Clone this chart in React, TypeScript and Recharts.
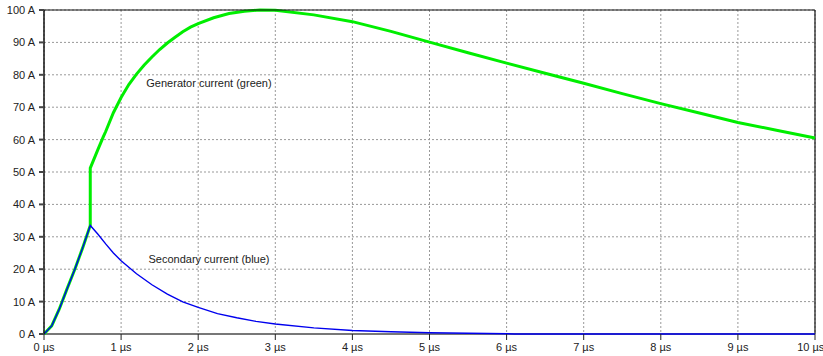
import { LineChart, Line, XAxis, YAxis, CartesianGrid, ReferenceLine, ReferenceDot } from 'recharts';

// time in µs, current in A
const generatorTime = [
  0, 0.1, 0.2, 0.3, 0.4, 0.5, 0.6, 0.6, 0.7, 0.77, 0.8, 0.9, 1.0, 1.1, 1.2, 1.3, 1.4, 1.5, 1.6, 1.7, 1.8, 1.9,
  2.0, 2.2, 2.4, 2.6, 2.8, 3.0, 3.5, 4.0, 4.5, 5.0, 5.5, 6.0, 6.5, 7.0, 7.5, 8.0, 8.5, 9.0, 9.5, 10,
];
const generatorCurrent = [
  0, 2.5, 7.8, 14, 20, 26.5, 33.5, 51.2, 57, 60.9, 62.5, 68.3, 73, 77, 80.2, 83, 85.5, 87.8, 89.8, 91.6, 93.3, 94.7,
  95.8, 97.6, 98.9, 99.6, 100, 99.9, 98.5, 96.4, 93.4, 90.1, 86.8, 83.6, 80.5, 77.4, 74.2, 71.1, 68.2, 65.3, 62.9, 60.5,
];

const secondaryTime = [
  0, 0.1, 0.2, 0.3, 0.4, 0.5, 0.6, 0.7, 0.8, 0.9, 1.0, 1.2, 1.4, 1.6, 1.8, 2.0, 2.25, 2.5, 2.75, 3.0,
  3.5, 4.0, 4.5, 5.0, 5.5, 6.0, 6.1, 7, 8, 9, 10,
];
const secondaryCurrent = [
  0, 2.5, 7.8, 14, 20, 26.5, 33.5, 30.8, 27.8, 25, 22.6, 18.6, 15.2, 12.3, 9.9, 8.2, 6.3, 5.0, 3.9, 3.1,
  1.9, 1.1, 0.7, 0.4, 0.25, 0.1, 0, 0, 0, 0, 0,
];

const xTicks = [0, 1, 2, 3, 4, 5, 6, 7, 8, 9, 10];
const yTicks = [0, 10, 20, 30, 40, 50, 60, 70, 80, 90, 100];

const generatorData = generatorTime.map((t, i) => ({ t, a: generatorCurrent[i] }));
const secondaryData = secondaryTime.map((t, i) => ({ t, a: secondaryCurrent[i] }));

const font = '"Liberation Sans", Arial, sans-serif';
const tickStyle = { fontSize: 11, fill: '#222', fontFamily: font };
const labelStyle = { fontSize: 11, fill: '#222', fontFamily: font };

export default function App() {
  return (
    <div style={{ position: 'absolute', left: 0, top: 0, width: 823, height: 356, background: '#fff' }}>
      <LineChart width={823} height={356} margin={{ top: 10, right: 8, bottom: 0, left: 0 }}>
        <CartesianGrid stroke="#999" strokeDasharray="2 2" />
        <XAxis
          dataKey="t"
          type="number"
          domain={[0, 10]}
          ticks={xTicks}
          tickFormatter={(v) => `${v} µs`}
          tick={tickStyle}
          tickSize={6}
          tickMargin={3}
          height={22}
          axisLine={false}
          tickLine={{ stroke: '#222' }}
          allowDuplicatedCategory={false}
        />
        <YAxis
          dataKey="a"
          type="number"
          domain={[0, 100]}
          ticks={yTicks}
          tickFormatter={(v) => `${v} A`}
          tick={tickStyle}
          tickSize={5}
          tickMargin={4}
          width={44}
          axisLine={{ stroke: '#111', strokeWidth: 1.5 }}
          tickLine={{ stroke: '#444', strokeWidth: 2 }}
        />
        <ReferenceLine y={0} stroke="#777" strokeWidth={2} />
        <ReferenceLine x={10} stroke="#111" strokeWidth={1.2} />
        <Line
          data={generatorData}
          dataKey="a"
          type="linear"
          stroke="#00ee00"
          strokeWidth={3}
          dot={false}
          isAnimationActive={false}
        />
        <Line
          data={secondaryData}
          dataKey="a"
          type="linear"
          stroke="#0000ee"
          strokeWidth={1.4}
          dot={false}
          isAnimationActive={false}
        />
        <ReferenceLine y={100} stroke="#111" strokeWidth={1.2} />
        <ReferenceDot x={2.14} y={77.5} r={0} label={{ value: 'Generator current (green)', position: 'center', ...labelStyle }} />
        <ReferenceDot x={2.14} y={23.1} r={0} label={{ value: 'Secondary current (blue)', position: 'center', ...labelStyle }} />
      </LineChart>
    </div>
  );
}
